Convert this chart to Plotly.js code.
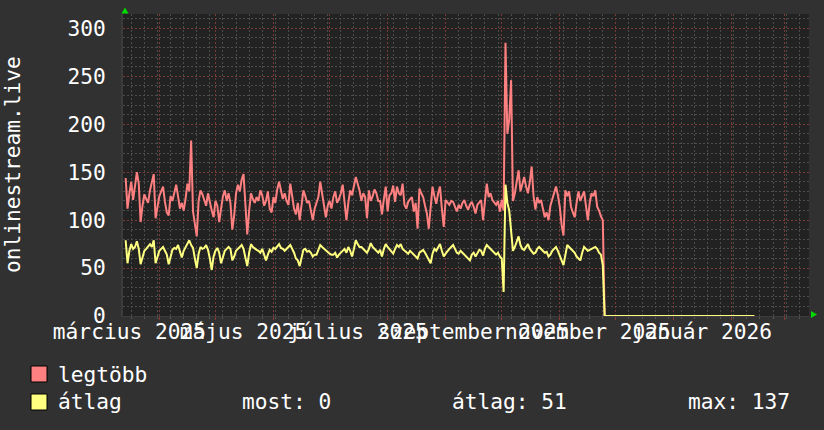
<!DOCTYPE html>
<html>
<head>
<meta charset="utf-8">
<script src="https://cdn.plot.ly/plotly-3.0.1.min.js"></script>
<style>
html,body{margin:0;padding:0;background:#313131;}
#chart{width:824px;height:430px;}
</style>
</head>
<body>
<div id="chart"></div>
<script>
// ---------- data ----------
const startDate = "2025-03-14";          // first daily sample
const seriesNames = ["legtöbb", "átlag"];
const seriesColors = ["#ff8080", "#ffff80"];
const maxValues = [
144,112,128,140,121,135,150,138,98,115,127,122,118,131,140,148,102,112,125,130,
135,119,108,105,125,120,128,137,125,112,118,110,122,138,130,183,109,95,83,120,
131,127,122,115,128,118,110,103,120,115,98,112,125,131,120,128,118,90,105,128,
137,130,142,148,120,85,110,128,122,118,124,120,131,126,115,120,130,112,108,124,
118,132,140,130,122,128,120,116,138,125,112,106,118,100,115,131,125,118,120,110,
100,112,118,124,140,128,112,103,115,120,112,124,130,118,122,128,137,115,100,118,
131,126,135,145,138,131,120,128,124,102,131,120,125,132,128,120,120,106,122,135,
109,126,128,136,119,135,128,126,138,116,112,119,122,124,109,118,91,133,128,124,
115,107,91,110,135,125,117,128,135,112,93,121,118,116,120,119,114,109,116,112,
118,121,115,111,116,119,114,107,116,118,121,100,120,138,124,128,121,118,116,120,
109,121,110,285,190,205,246,120,128,140,152,130,138,145,135,128,140,156,125,111,
124,118,121,112,103,108,100,115,121,128,135,126,114,95,84,131,125,130,114,108,
103,118,130,120,126,130,115,100,118,128,125,131,114,110,104,100
];
const avgValues = [
79,55,68,75,70,72,78,70,54,62,68,70,72,75,72,79,55,62,68,70,
72,68,64,54,62,69,71,70,74,68,61,68,72,75,79,74,71,60,50,65,
72,70,71,74,69,60,48,62,68,71,66,55,62,68,70,72,70,58,62,68,
70,72,74,70,60,52,66,75,72,70,69,68,66,70,64,58,64,69,67,71,
70,73,75,71,70,68,70,72,74,70,66,60,58,52,62,69,70,67,68,66,
62,64,64,70,74,72,70,68,66,65,64,64,66,61,64,66,68,70,66,72,
68,62,70,79,75,72,72,70,68,66,70,76,72,70,68,66,69,62,70,75,
72,70,68,65,70,74,72,75,70,68,67,65,68,66,64,62,60,66,68,69,
66,62,58,55,65,70,68,72,75,68,62,65,68,70,72,74,70,66,65,68,
66,64,62,60,58,64,66,62,66,69,68,63,70,74,72,70,68,65,64,66,
62,60,25,137,118,110,92,68,72,78,83,74,70,69,72,75,70,68,65,66,
70,72,70,68,66,67,62,64,68,70,72,68,62,58,53,66,74,72,70,69,
66,62,60,58,66,72,70,68,69,70,71,72,70,66,64,53
];
// period after the data stops: both series sit at zero
const tailDates = ["2025-11-25", "2026-02-13"];
const tailMax = [0, 0];
const tailAvg = [0, 0];

// axis / legend text
const xRange = ["2025-03-12 14:00", "2026-03-14 05:00"];
const yRange = [0, 315];
const labelDates = ["2025-03-16", "2025-05-16", "2025-07-16", "2025-09-16", "2025-11-16", "2026-01-16"];
const labelTexts = ["március 2025", "május 2025", "július 2025", "szeptember 2025", "november 2025", "január 2026"];
const yTitle = "onlinestream.live";
const statLabels = ["most:", "átlag:", "max:"];
const statValues = [0, 51, 137];

// ---------- build ----------
function dayString(i){
  const d = new Date(Date.parse(startDate + "T00:00:00Z") + i*86400000);
  return d.toISOString().slice(0,10);
}
const dates = maxValues.map((_, i) => dayString(i)).concat(tailDates);
const maxY = maxValues.concat(tailMax);
const avgY = avgValues.concat(tailAvg);

const L = 123, R = 809, T = 14, B = 316;
const px = x => (x - L) / (R - L);
const py = y => (B - y) / (B - T);

const FONT = "DejaVu Sans Mono";
const FS = 21.2;
const TXT = "#ffffff";

const traces = [
  {x: dates, y: maxY, name: seriesNames[0], type: "scatter", mode: "lines",
   line: {color: seriesColors[0], width: 2}, xaxis: "x", yaxis: "y", hoverinfo: "skip"},
  {x: dates, y: avgY, name: seriesNames[1], type: "scatter", mode: "lines",
   line: {color: seriesColors[1], width: 2}, xaxis: "x2", yaxis: "y", hoverinfo: "skip"}
];

const majorGrid = "#7a3a3a";
const minorGrid = "#4c4c4c";
const dash = "2px,2px";

const shapes = [
  // green axis arrows
  {type: "path", xref: "paper", yref: "paper",
   path: `M ${px(125)} ${py(7.5)} L ${px(121.5)} ${py(13.5)} L ${px(128.5)} ${py(13.5)} Z`,
   fillcolor: "#00dd00", line: {width: 0}},
  {type: "path", xref: "paper", yref: "paper",
   path: `M ${px(817)} ${py(314.5)} L ${px(811)} ${py(311)} L ${px(811)} ${py(318)} Z`,
   fillcolor: "#00dd00", line: {width: 0}},
  // legend colour boxes
  {type: "rect", xref: "paper", yref: "paper", x0: px(31), x1: px(47), y0: py(366), y1: py(382),
   fillcolor: seriesColors[0], line: {color: "#000000", width: 1}},
  {type: "rect", xref: "paper", yref: "paper", x0: px(31), x1: px(47), y0: py(394), y1: py(410),
   fillcolor: seriesColors[1], line: {color: "#000000", width: 1}}
];

const ann = (x, y, text, extra) => Object.assign({
  xref: "paper", yref: "paper", x: px(x), y: py(y), text: text, showarrow: false,
  xanchor: "left", yanchor: "middle", font: {family: FONT, size: FS, color: TXT}
}, extra || {});

const annotations = [
  ann(12, 165, yTitle, {xanchor: "center", textangle: -90}),
  ann(56, 374, seriesNames[0]),
  ann(56, 402, seriesNames[1]),
  ann(240, 402, statLabels[0] + " " + statValues[0]),
  ann(450, 402, statLabels[1] + " " + statValues[1]),
  ann(686, 402, statLabels[2] + " " + statValues[2])
];

const layout = {
  width: 824, height: 430,
  margin: {l: L, r: 824 - R, t: T, b: 430 - B, pad: 0},
  paper_bgcolor: "#313131",
  plot_bgcolor: "#222222",
  showlegend: false,
  font: {family: FONT, size: FS, color: TXT},
  xaxis: {
    type: "date", range: xRange, fixedrange: true,
    showticklabels: false, zeroline: false,
    tickmode: "linear", tick0: "2025-04-01", dtick: "M1",
    showgrid: true, gridcolor: majorGrid, griddash: dash, gridwidth: 1,
    ticks: "outside", ticklen: 3, tickcolor: "#8a3a3a",
    showline: true, linecolor: "#3c3c3c", linewidth: 1,
    minor: {tick0: "2025-03-31", dtick: 7 * 86400000, showgrid: true,
            gridcolor: minorGrid, griddash: dash, gridwidth: 1,
            ticks: "outside", ticklen: 2, tickcolor: "#555555"}
  },
  xaxis2: {
    type: "date", range: xRange, fixedrange: true, overlaying: "x", anchor: "y", side: "bottom",
    tickmode: "array", tickvals: labelDates, ticktext: labelTexts, tickangle: 0,
    showgrid: false, zeroline: false, ticks: "", ticklabelstandoff: 1,
    tickfont: {family: FONT, size: FS, color: TXT}
  },
  yaxis: {
    range: yRange, fixedrange: true, zeroline: false,
    tickmode: "linear", tick0: 0, dtick: 50,
    showgrid: true, gridcolor: majorGrid, griddash: dash, gridwidth: 1,
    ticks: "", ticklabelstandoff: 11,
    showline: true, linecolor: "#3c3c3c", linewidth: 2,
    tickfont: {family: FONT, size: FS, color: TXT},
    minor: {tick0: 0, dtick: 10, showgrid: true, gridcolor: minorGrid, griddash: dash, gridwidth: 1}
  },
  shapes: shapes,
  annotations: annotations
};

Plotly.newPlot("chart", traces, layout, {staticPlot: true, displayModeBar: false});
</script>
</body>
</html>
